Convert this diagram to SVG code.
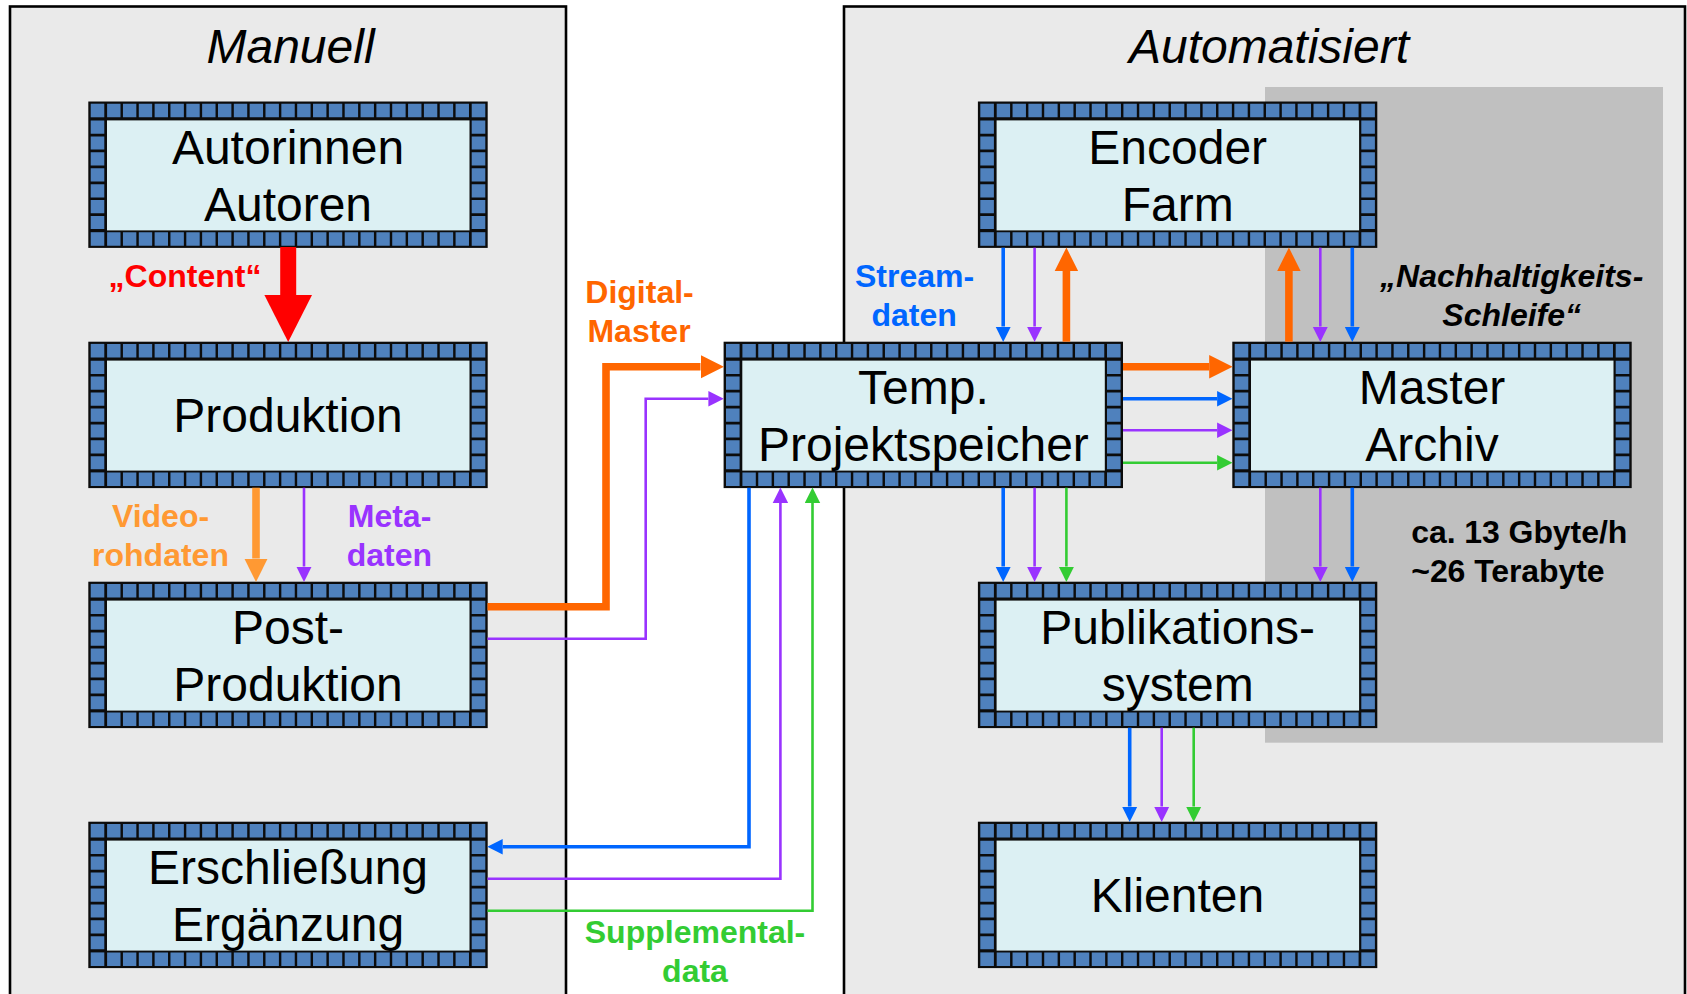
<svg xmlns="http://www.w3.org/2000/svg" width="1687" height="994" viewBox="0 0 1687 994">
<style>
text{font-family:"Liberation Sans",Arial,sans-serif;text-anchor:middle}
.node{font-size:48px;fill:#000}
.head{font-size:48px;font-style:italic;fill:#000}
.lab{font-size:32px;font-weight:bold}
.panel{fill:#eaeaea;stroke:#000;stroke-width:2.6}
.c{fill:none;stroke-linejoin:miter}
.t{stroke-width:2.6}.m{stroke-width:3.6}.w{stroke-width:7.6}
.bl{stroke:#0066ff}.pu{stroke:#9933ff}.gr{stroke:#33cc33}.or{stroke:#ff6600}.lo{stroke:#ff9933}.re{stroke:#ff0000}
</style>
<defs>
<g id="frame">
<rect width="399.4" height="146.4" fill="#0c0c0c"/>
<rect x="18.7" y="18.9" width="362.5" height="110" fill="#dcf0f3"/>
<g fill="none" stroke="#4f81bd">
<line x1="18.8" y1="9" x2="381" y2="9" stroke-width="13.6" stroke-dasharray="13.4 2.44"/>
<line x1="18.8" y1="137.5" x2="381" y2="137.5" stroke-width="13.6" stroke-dasharray="13.4 2.44"/>
<line x1="9.2" y1="19" x2="9.2" y2="127.6" stroke-width="13.6" stroke-dasharray="13.2 2.72"/>
<line x1="390.2" y1="19" x2="390.2" y2="127.6" stroke-width="13.6" stroke-dasharray="13.2 2.72"/>
<line x1="2.4" y1="9" x2="16" y2="9" stroke-width="13.6"/>
<line x1="383.4" y1="9" x2="397" y2="9" stroke-width="13.6"/>
<line x1="2.4" y1="137.5" x2="16" y2="137.5" stroke-width="13.6"/>
<line x1="383.4" y1="137.5" x2="397" y2="137.5" stroke-width="13.6"/>
</g>
</g>
<marker id="hBl" markerUnits="userSpaceOnUse" markerWidth="16" markerHeight="16" refX="0" refY="8" orient="auto"><path d="M0 .3L15.4 8 0 15.7z" fill="#0066ff"/></marker>
<marker id="hPu" markerUnits="userSpaceOnUse" markerWidth="16" markerHeight="16" refX="0" refY="8" orient="auto"><path d="M0 .3L15.4 8 0 15.7z" fill="#9933ff"/></marker>
<marker id="hGr" markerUnits="userSpaceOnUse" markerWidth="16" markerHeight="16" refX="0" refY="8" orient="auto"><path d="M0 .3L15.4 8 0 15.7z" fill="#33cc33"/></marker>
<marker id="hOr" markerUnits="userSpaceOnUse" markerWidth="24" markerHeight="24" refX="0" refY="12" orient="auto"><path d="M0 .3L23.4 12 0 23.7z" fill="#ff6600"/></marker>
<marker id="hLo" markerUnits="userSpaceOnUse" markerWidth="24" markerHeight="24" refX="0" refY="12" orient="auto"><path d="M0 .3L23.4 12 0 23.7z" fill="#ff9933"/></marker>
<marker id="hRe" markerUnits="userSpaceOnUse" markerWidth="48" markerHeight="48" refX="0" refY="24" orient="auto"><path d="M0 .2L47 24 0 47.8z" fill="#ff0000"/></marker>
</defs>

<g id="panels">
<rect class="panel" x="10" y="6.5" width="556" height="1000"/>
<rect class="panel" x="844" y="6.5" width="841" height="1000"/>
<rect x="1265" y="87" width="398" height="655.7" fill="#c0c0c0"/>
<text class="head" x="290.5" y="62.7">Manuell</text>
<text class="head" x="1269" y="62.7">Automatisiert</text>
</g>

<g id="n-autoren"><use href="#frame" x="88.3" y="101.5"/><text class="node" x="288" y="164">Autorinnen</text><text class="node" x="288" y="221">Autoren</text></g>
<g id="n-produktion"><use href="#frame" x="88.3" y="341.7"/><text class="node" x="288" y="431.7">Produktion</text></g>
<g id="n-post"><use href="#frame" x="88.3" y="581.7"/><text class="node" x="288" y="643.5">Post-</text><text class="node" x="288" y="700.5">Produktion</text></g>
<g id="n-erschliessung"><use href="#frame" x="88.3" y="821.7"/><text class="node" x="288" y="883.5">Erschließung</text><text class="node" x="288" y="940.5">Ergänzung</text></g>
<g id="n-encoder"><use href="#frame" x="977.9" y="101.5"/><text class="node" x="1177.7" y="164">Encoder</text><text class="node" x="1177.7" y="221">Farm</text></g>
<g id="n-temp"><use href="#frame" x="723.6" y="341.7"/><text class="node" x="923.4" y="403.5">Temp.</text><text class="node" x="923.4" y="460.5">Projektspeicher</text></g>
<g id="n-master"><use href="#frame" x="1232.3" y="341.7"/><text class="node" x="1432" y="403.5">Master</text><text class="node" x="1432" y="460.5">Archiv</text></g>
<g id="n-publikation"><use href="#frame" x="977.9" y="581.7"/><text class="node" x="1177.7" y="643.5">Publikations-</text><text class="node" x="1177.7" y="700.5">system</text></g>
<g id="n-klienten"><use href="#frame" x="977.9" y="821.7"/><text class="node" x="1177.5" y="912">Klienten</text></g>

<g id="connectors">
<path class="c re" stroke-width="16" d="M288.2 247V295" marker-end="url(#hRe)"/>
<path class="c lo w" d="M256 487.7V558.5" marker-end="url(#hLo)"/>
<path class="c pu t" d="M304 487.7V566.5" marker-end="url(#hPu)"/>
<path class="c or w" d="M487.5 606.7H606V366.7H700.5" marker-end="url(#hOr)"/>
<path class="c pu t" d="M487.5 638.7H645.7V398.7H708.4" marker-end="url(#hPu)"/>
<path class="c bl m" d="M749 487.7V846.7H502.7" marker-end="url(#hBl)"/>
<path class="c pu t" d="M487.5 878.7H780.4V502.9" marker-end="url(#hPu)"/>
<path class="c gr t" d="M487.5 910.7H812.5V502.9" marker-end="url(#hGr)"/>
<path class="c bl m" d="M1003.2 247.7V326.5" marker-end="url(#hBl)"/>
<path class="c pu t" d="M1034.6 247.7V326.5" marker-end="url(#hPu)"/>
<path class="c or w" d="M1066.4 341.7V271" marker-end="url(#hOr)"/>
<path class="c bl m" d="M1003.2 487.7V566.5" marker-end="url(#hBl)"/>
<path class="c pu t" d="M1034.6 487.7V566.5" marker-end="url(#hPu)"/>
<path class="c gr t" d="M1066.4 487.7V566.5" marker-end="url(#hGr)"/>
<path class="c or w" d="M1123 366.7H1209.2" marker-end="url(#hOr)"/>
<path class="c bl m" d="M1123 398.7H1217.1" marker-end="url(#hBl)"/>
<path class="c pu t" d="M1123 430.3H1217.1" marker-end="url(#hPu)"/>
<path class="c gr t" d="M1123 462.7H1217.1" marker-end="url(#hGr)"/>
<path class="c or w" d="M1288.9 341.7V271" marker-end="url(#hOr)"/>
<path class="c pu t" d="M1320.3 247.7V326.5" marker-end="url(#hPu)"/>
<path class="c bl m" d="M1352.3 247.7V326.5" marker-end="url(#hBl)"/>
<path class="c pu t" d="M1320.3 487.7V566.5" marker-end="url(#hPu)"/>
<path class="c bl m" d="M1352.3 487.7V566.5" marker-end="url(#hBl)"/>
<path class="c bl m" d="M1129.7 727.7V806.5" marker-end="url(#hBl)"/>
<path class="c pu t" d="M1161.7 727.7V806.5" marker-end="url(#hPu)"/>
<path class="c gr t" d="M1193.7 727.7V806.5" marker-end="url(#hGr)"/>
</g>

<g id="labels">
<text class="lab" x="185" y="286.7" fill="#ff0000">„Content“</text>
<text class="lab" x="160.5" y="527" fill="#ff9933">Video-</text>
<text class="lab" x="160.5" y="566" fill="#ff9933">rohdaten</text>
<text class="lab" x="389.5" y="527" fill="#9933ff">Meta-</text>
<text class="lab" x="389.3" y="566" fill="#9933ff">daten</text>
<text class="lab" x="639.5" y="303" fill="#ff6600">Digital-</text>
<text class="lab" x="639" y="342" fill="#ff6600">Master</text>
<text class="lab" x="914.5" y="286.7" fill="#0066ff">Stream-</text>
<text class="lab" x="914.2" y="325.7" fill="#0066ff">daten</text>
<text class="lab" x="1511.7" y="287.3" font-style="italic" fill="#000">„Nachhaltigkeits-</text>
<text class="lab" x="1511.7" y="325.7" font-style="italic" fill="#000">Schleife“</text>
<text class="lab" x="1411.3" y="543" fill="#000" style="text-anchor:start;letter-spacing:-.08px">ca. 13 Gbyte/h</text>
<text class="lab" x="1411.3" y="582" fill="#000" style="text-anchor:start;letter-spacing:-.08px">~26 Terabyte</text>
<text class="lab" x="695" y="942.7" fill="#33cc33">Supplemental-</text>
<text class="lab" x="695" y="981.7" fill="#33cc33">data</text>
</g>
</svg>
